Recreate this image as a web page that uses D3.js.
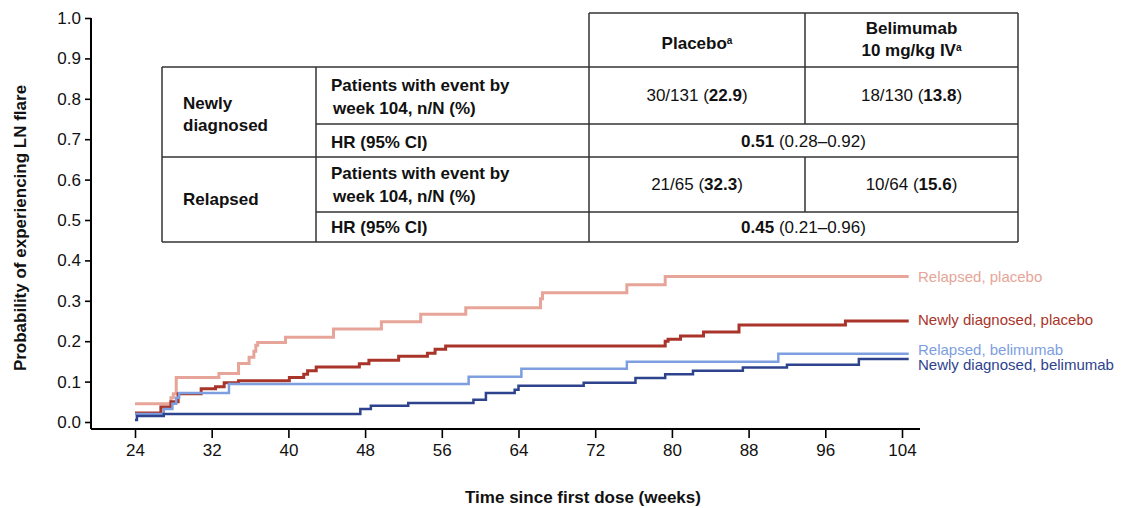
<!DOCTYPE html>
<html>
<head>
<meta charset="utf-8">
<script src="https://cdn.jsdelivr.net/npm/d3@7"></script>
<style>
  body { margin: 0; background: #fff; }
  svg { font-family: "Liberation Sans", Arial, sans-serif; }
</style>
</head>
<body>
<div id="chart"></div>
<script>
// step curves: [week, probability]
const relapsedPlacebo = [[24,0.045],[27.75,0.06],[28.0,0.07],[28.3,0.11],[32.75,0.12],[34.8,0.145],[35.9,0.16],[36.4,0.175],[36.6,0.19],[36.8,0.197],[39.7,0.21],[44.7,0.23],[49.7,0.248],[53.8,0.267],[58.5,0.283],[66.3,0.305],[66.5,0.32],[75.3,0.34],[79.3,0.36],[104.7,0.36]];
const newlyPlacebo = [[24,0.022],[26.7,0.037],[27.75,0.05],[28.5,0.07],[30.9,0.082],[32.4,0.087],[33.3,0.097],[34.8,0.102],[40.1,0.11],[41.6,0.118],[42.0,0.127],[42.9,0.136],[47.4,0.144],[48.4,0.153],[51.5,0.163],[54.5,0.17],[55.3,0.18],[56.4,0.188],[79.3,0.2],[79.6,0.205],[80.9,0.213],[83.3,0.223],[87.0,0.24],[98.1,0.25],[104.7,0.25]];
const relapsedBelimumab = [[24,0.02],[27,0.032],[27.9,0.045],[28.3,0.06],[28.6,0.072],[33.8,0.094],[58.8,0.112],[64.3,0.132],[75.3,0.149],[91.1,0.169],[104.7,0.169]];
const newlyBelimumab = [[24,0.005],[24.2,0.015],[27,0.02],[47.5,0.032],[48.6,0.04],[52.5,0.047],[59.3,0.055],[60.6,0.072],[63.6,0.08],[64.0,0.09],[70.8,0.097],[76.2,0.109],[79.3,0.118],[82.2,0.127],[87.4,0.135],[92.0,0.142],[99.5,0.156],[104.7,0.156]];

const seriesNames = ["Relapsed, placebo", "Newly diagnosed, placebo", "Relapsed, belimumab", "Newly diagnosed, belimumab"];
const xTicks = [24, 32, 40, 48, 56, 64, 72, 80, 88, 96, 104];
const yTicks = [0, 0.1, 0.2, 0.3, 0.4, 0.5, 0.6, 0.7, 0.8, 0.9, 1.0];

// table contents
const groupNames = ["Newly diagnosed", "Relapsed"];
const eventLabel = ["Patients with event by", "week 104, n/N (%)"];
const hrLabel = "HR (95% CI)";
const placeboEvents = [["30/131 ", "22.9"], ["21/65 ", "32.3"]];
const belimumabEvents = [["18/130 ", "13.8"], ["10/64 ", "15.6"]];
const hrValues = [["0.51", "0.28\u20130.92"], ["0.45", "0.21\u20130.96"]];

const W = 1122, H = 508;
const svg = d3.select("#chart").append("svg")
  .attr("width", W).attr("height", H);

const x = d3.scaleLinear().domain([24, 104]).range([135, 902]);
const y = d3.scaleLinear().domain([0, 1]).range([422, 18]);
const axisX0 = 91, axisY0 = 429;

// y axis
const yAxis = svg.append("g")
  .attr("transform", `translate(${axisX0},0)`)
  .call(d3.axisLeft(y).tickValues(yTicks).tickFormat(d3.format(".1f")).tickSize(6).tickPadding(4));
yAxis.select(".domain").remove();
svg.append("line").attr("x1", axisX0).attr("x2", axisX0).attr("y1", y(1)).attr("y2", axisY0)
  .attr("stroke", "#000").attr("stroke-width", 2);

// x axis
const xAxis = svg.append("g")
  .attr("transform", `translate(0,${axisY0})`)
  .call(d3.axisBottom(x).tickValues(xTicks).tickSize(9).tickPadding(6));
xAxis.select(".domain").remove();
svg.append("line").attr("x1", axisX0).attr("x2", 920).attr("y1", axisY0).attr("y2", axisY0)
  .attr("stroke", "#000").attr("stroke-width", 2);

svg.selectAll(".tick line").attr("stroke", "#000").attr("stroke-width", 1.6);
svg.selectAll(".tick text").attr("font-size", 17).attr("fill", "#111")
  .attr("font-family", "'Liberation Sans', Arial, sans-serif");

// axis titles
svg.append("text")
  .attr("x", 583).attr("y", 503)
  .attr("text-anchor", "middle").attr("font-size", 17).attr("font-weight", "bold").attr("fill", "#111")
  .text("Time since first dose (weeks)");
svg.append("text")
  .attr("transform", "translate(26,228) rotate(-90)")
  .attr("text-anchor", "middle").attr("font-size", 17).attr("font-weight", "bold").attr("fill", "#111")
  .text("Probability of experiencing LN flare");

// curves
const curves = [
  { data: relapsedPlacebo, color: "#e6a598", width: 3, dy: 0 },
  { data: newlyPlacebo, color: "#a9342a", width: 3, dy: -1 },
  { data: relapsedBelimumab, color: "#7d9edf", width: 2.5, dy: -4 },
  { data: newlyBelimumab, color: "#2e438d", width: 2.5, dy: 6 }
];
const line = d3.line().x(d => x(d[0])).y(d => y(d[1])).curve(d3.curveStepAfter);

svg.selectAll(".curve").data(curves).join("path")
  .attr("class", "curve")
  .attr("d", d => line(d.data))
  .attr("fill", "none")
  .attr("stroke", d => d.color)
  .attr("stroke-width", d => d.width);

svg.selectAll(".clabel").data(curves).join("text")
  .attr("class", "clabel")
  .attr("x", 918)
  .attr("y", d => y(d.data[d.data.length - 1][1]) + d.dy)
  .attr("dy", "0.35em")
  .attr("font-size", 15)
  .attr("fill", d => d.color)
  .text((d, i) => seriesNames[i]);

// table
const tx = [162, 316, 589, 805, 1018];
const ty = [13, 67, 124, 157, 212, 242];
const tbl = svg.append("g").attr("stroke", "#333").attr("stroke-width", 1.5);
const segs = [
  [tx[2], ty[0], tx[4], ty[0]],
  [tx[0], ty[1], tx[4], ty[1]],
  [tx[1], ty[2], tx[4], ty[2]],
  [tx[0], ty[3], tx[4], ty[3]],
  [tx[1], ty[4], tx[4], ty[4]],
  [tx[0], ty[5], tx[4], ty[5]],
  [tx[0], ty[1], tx[0], ty[5]],
  [tx[1], ty[1], tx[1], ty[5]],
  [tx[2], ty[0], tx[2], ty[5]],
  [tx[3], ty[0], tx[3], ty[2]],
  [tx[3], ty[3], tx[3], ty[4]],
  [tx[4], ty[0], tx[4], ty[5]]
];
tbl.selectAll("line").data(segs).join("line")
  .attr("x1", d => d[0]).attr("y1", d => d[1]).attr("x2", d => d[2]).attr("y2", d => d[3]);

const tt = svg.append("g").attr("font-size", 17).attr("fill", "#111");
const colP = (tx[2] + tx[3]) / 2, colB = (tx[3] + tx[4]) / 2, colHR = (tx[2] + tx[4]) / 2;

// header
const hp = tt.append("text").attr("x", colP).attr("y", 49).attr("text-anchor", "middle").attr("font-weight", "bold");
hp.append("tspan").text("Placebo");
hp.append("tspan").attr("font-size", 10).attr("dy", -5).text("a");
tt.append("text").attr("x", colB).attr("y", 34).attr("text-anchor", "middle").attr("font-weight", "bold").text("Belimumab");
const hb = tt.append("text").attr("x", colB).attr("y", 56).attr("text-anchor", "middle").attr("font-weight", "bold");
hb.append("tspan").text("10 mg/kg IV");
hb.append("tspan").attr("font-size", 10).attr("dy", -5).text("a");

// groups
const gN = tt.append("text").attr("x", 183).attr("font-weight", "bold");
gN.append("tspan").attr("x", 183).attr("y", 109).text("Newly");
gN.append("tspan").attr("x", 183).attr("y", 131).text("diagnosed");
tt.append("text").attr("x", 183).attr("y", 205).attr("font-weight", "bold").text(groupNames[1]);

const rowTop = [[91, 114, 148], [179, 202, 233]];
const valY = [101, 190], hrY = [147, 233];
groupNames.forEach((g, i) => {
  const el = tt.append("text").attr("font-weight", "bold");
  el.append("tspan").attr("x", 331).attr("y", rowTop[i][0]).text(eventLabel[0]);
  el.append("tspan").attr("x", 333).attr("y", rowTop[i][1]).text(eventLabel[1]);
  tt.append("text").attr("x", 331).attr("y", rowTop[i][2]).attr("font-weight", "bold").text(hrLabel);

  const p = tt.append("text").attr("x", colP).attr("y", valY[i]).attr("text-anchor", "middle");
  p.append("tspan").text(placeboEvents[i][0] + "(");
  p.append("tspan").attr("font-weight", "bold").text(placeboEvents[i][1]);
  p.append("tspan").text(")");

  const b = tt.append("text").attr("x", colB).attr("y", valY[i]).attr("text-anchor", "middle");
  b.append("tspan").text(belimumabEvents[i][0] + "(");
  b.append("tspan").attr("font-weight", "bold").text(belimumabEvents[i][1]);
  b.append("tspan").text(")");

  const h = tt.append("text").attr("x", colHR).attr("y", hrY[i]).attr("text-anchor", "middle");
  h.append("tspan").attr("font-weight", "bold").text(hrValues[i][0]);
  h.append("tspan").text(" (" + hrValues[i][1] + ")");
});
</script>
</body>
</html>
